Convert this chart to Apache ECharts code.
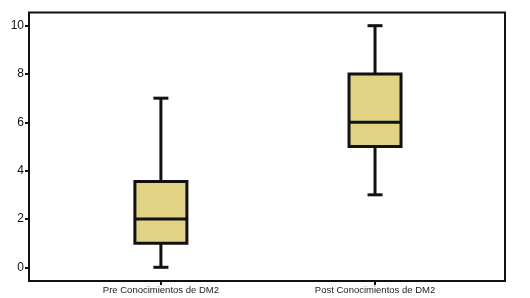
<!DOCTYPE html>
<html>
<head>
<meta charset="utf-8">
<script src="https://cdn.jsdelivr.net/npm/echarts@6/dist/echarts.min.js"></script>
<style>html,body{margin:0;padding:0;background:#fff;}#c{width:530px;height:298px;}</style>
</head>
<body>
<div id="c"></div>
<script>
var categories = ['Pre Conocimientos de DM2', 'Post Conocimientos de DM2'];
var whiskerLow = [0, 3];
var q1Values = [1, 5];
var medianValues = [2, 6];
var q3Values = [3.55, 8];
var whiskerHigh = [7, 10];
var yTicks = [0, 2, 4, 6, 8, 10];

var data = categories.map(function (c, i) {
  return [i, whiskerLow[i], q1Values[i], medianValues[i], q3Values[i], whiskerHigh[i]];
});

var chart = echarts.init(document.getElementById('c'));
chart.setOption({
  animation: false,
  backgroundColor: '#fff',
  grid: { left: 29, right: 25, top: 12.5, bottom: 17, show: true, borderColor: '#111', borderWidth: 2, backgroundColor: 'transparent' },
  xAxis: {
    type: 'value', min: -0.616, max: 1.607, position: 'bottom',
    splitLine: { show: false },
    axisLine: { show: false, onZero: false },
    axisTick: { show: true, customValues: [0, 1], length: 4, lineStyle: { color: '#111', width: 2 } },
    axisLabel: { customValues: [0, 1], margin: 4, color: '#1a1a1a', fontSize: 9.5, fontFamily: 'Liberation Sans',
      formatter: function (v) { return categories[Math.round(v)] || ''; } }
  },
  yAxis: {
    type: 'value', min: -0.567, max: 10.546, position: 'left',
    splitLine: { show: false },
    axisLine: { show: false, onZero: false },
    axisTick: { show: true, customValues: yTicks, length: 4, lineStyle: { color: '#111', width: 2 } },
    axisLabel: { customValues: yTicks, margin: 5, color: '#111', fontSize: 12, fontFamily: 'Liberation Sans' }
  },
  series: [{
    type: 'custom',
    data: data,
    encode: { x: 0, y: [1, 2, 3, 4, 5] },
    renderItem: function (params, api) {
      var i = api.value(0);
      var pMin = api.coord([i, api.value(1)]);
      var pQ1 = api.coord([i, api.value(2)]);
      var pMed = api.coord([i, api.value(3)]);
      var pQ3 = api.coord([i, api.value(4)]);
      var pMax = api.coord([i, api.value(5)]);
      var x = pMin[0];
      var hw = 26, cw = 7.5;
      var ls = { stroke: '#111', lineWidth: 3 };
      return {
        type: 'group',
        children: [
          { type: 'line', shape: { x1: x, y1: pMax[1], x2: x, y2: pQ3[1] }, style: ls },
          { type: 'line', shape: { x1: x, y1: pQ1[1], x2: x, y2: pMin[1] }, style: ls },
          { type: 'line', shape: { x1: x - cw, y1: pMax[1], x2: x + cw, y2: pMax[1] }, style: ls },
          { type: 'line', shape: { x1: x - cw, y1: pMin[1], x2: x + cw, y2: pMin[1] }, style: ls },
          { type: 'rect', shape: { x: x - hw, y: pQ3[1], width: 2 * hw, height: pQ1[1] - pQ3[1] },
            style: { fill: '#e2d283', stroke: '#111', lineWidth: 3 } },
          { type: 'line', shape: { x1: x - hw, y1: pMed[1], x2: x + hw, y2: pMed[1] }, style: ls }
        ]
      };
    }
  }]
});
</script>
</body>
</html>
